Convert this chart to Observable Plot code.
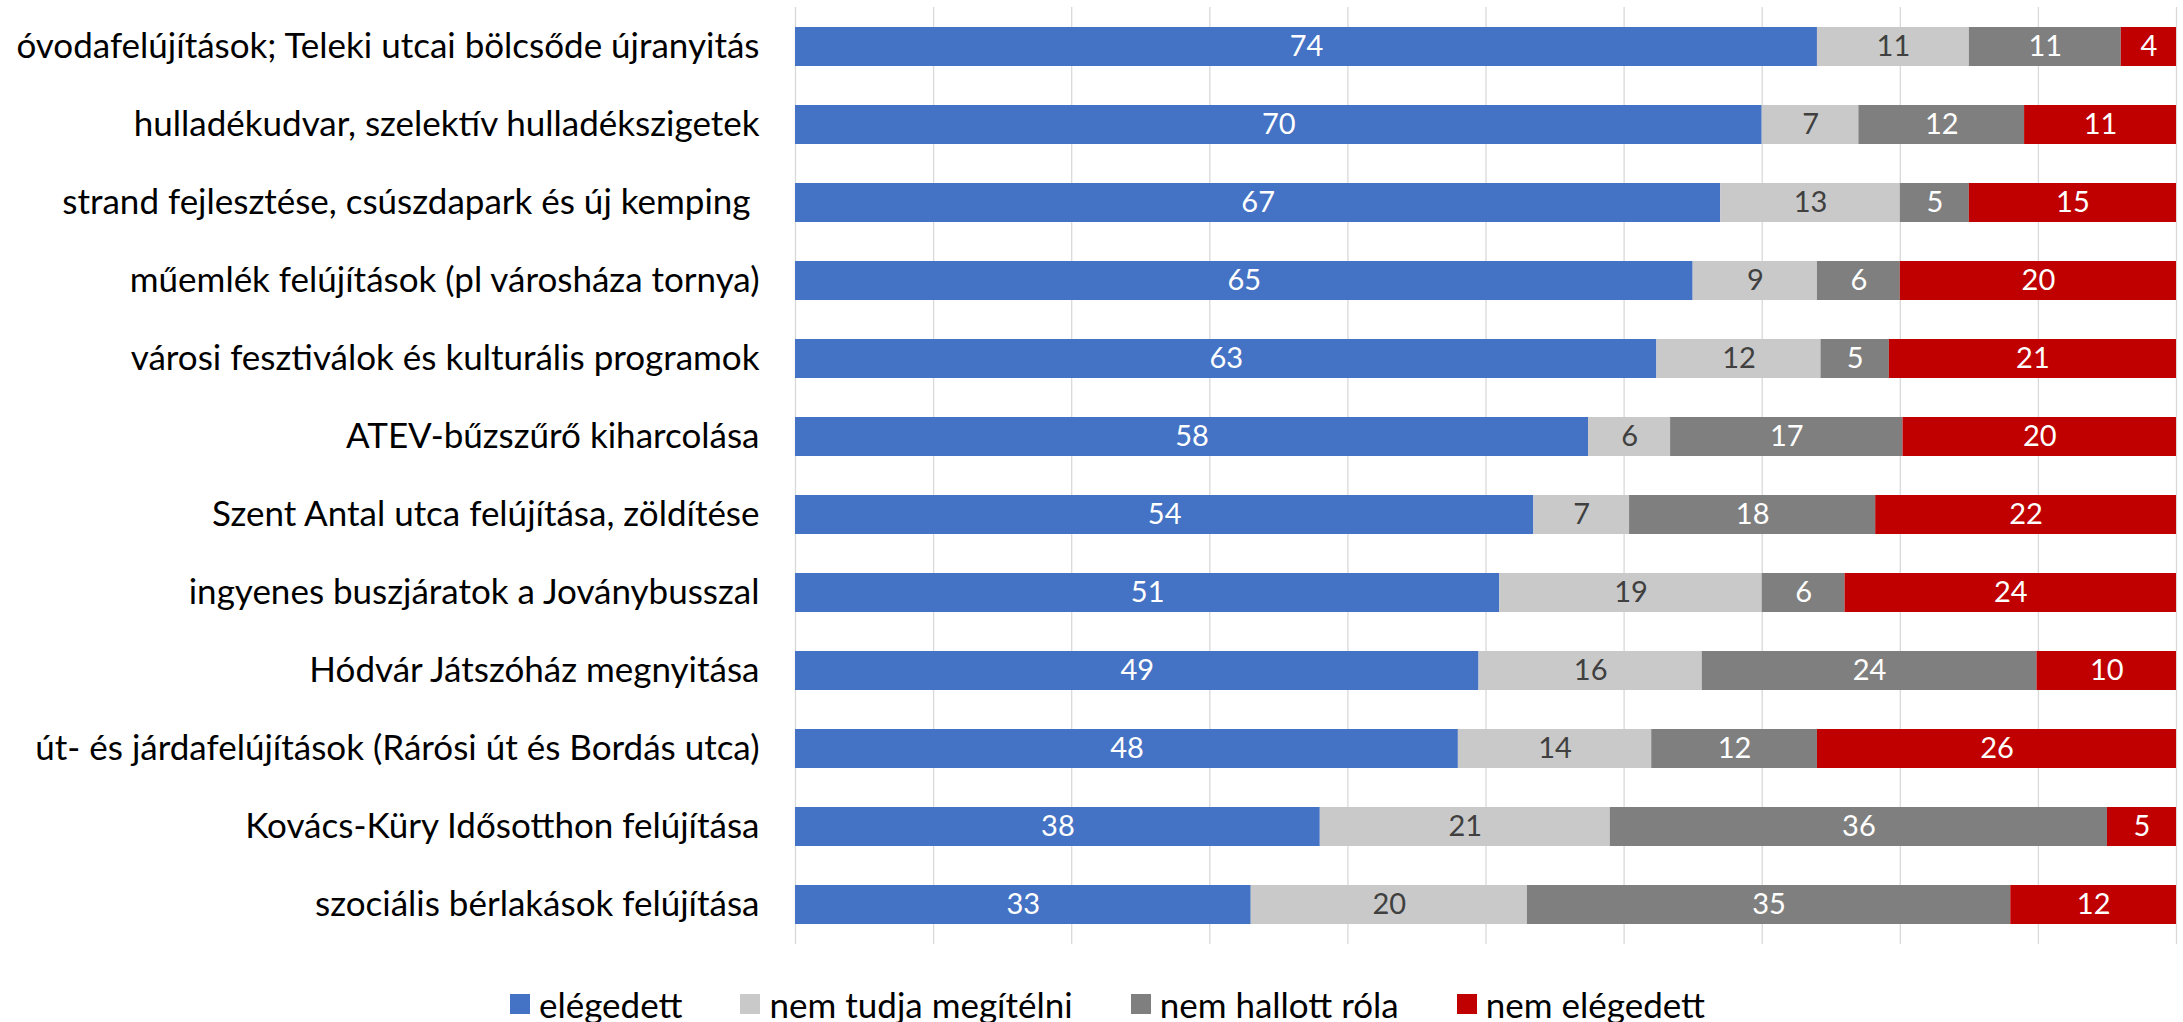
<!DOCTYPE html>
<html>
<head>
<meta charset="utf-8">
<script src="https://cdn.jsdelivr.net/npm/d3@7"></script>
<script src="https://cdn.jsdelivr.net/npm/@observablehq/plot@0.6"></script>
<style>
  html, body { margin: 0; padding: 0; background: #fff; }
  #chart svg text { white-space: pre; }
  #legend {
    width: 2183px; display: flex; justify-content: center; align-items: center;
    font-family: "Lato", sans-serif; font-size: 35px; color: #000; line-height: 40px;
    padding-top: 34px; padding-left: 32px; box-sizing: border-box;
  }
  #legend .item { display: flex; align-items: center; margin: 0 29px; }
  #legend .sw { width: 20px; height: 20px; margin-right: 9px; }
</style>
</head>
<body>
<div id="chart"></div>
<div id="legend"></div>
<script>
const items = [
  "óvodafelújítások; Teleki utcai bölcsőde újranyitás",
  "hulladékudvar, szelektív hulladékszigetek",
  "strand fejlesztése, csúszdapark és új kemping ",
  "műemlék felújítások (pl városháza tornya)",
  "városi fesztiválok és kulturális programok",
  "ATEV-bűzszűrő kiharcolása",
  "Szent Antal utca felújítása, zöldítése",
  "ingyenes buszjáratok a Joványbusszal",
  "Hódvár Játszóház megnyitása",
  "út- és járdafelújítások (Rárósi út és Bordás utca)",
  "Kovács-Küry Idősotthon felújítása",
  "szociális bérlakások felújítása"
];
const categories = ["elégedett", "nem tudja megítélni", "nem hallott róla", "nem elégedett"];
const colors = ["#4472C4", "#C9C9C9", "#7F7F7F", "#C00000"];
const labelColors = ["#FFFFFF", "#404040", "#FFFFFF", "#FFFFFF"];

const elegedett    = [74, 70, 67, 65, 63, 58, 54, 51, 49, 48, 38, 33];
const nemTudja     = [11,  7, 13,  9, 12,  6,  7, 19, 16, 14, 21, 20];
const nemHallott   = [11, 12,  5,  6,  5, 17, 18,  6, 24, 12, 36, 35];
const nemElegedett = [ 4, 11, 15, 20, 21, 20, 22, 24, 10, 26,  5, 12];

const xTicks = [0, 10, 20, 30, 40, 50, 60, 70, 80, 90, 100];

const series = [elegedett, nemTudja, nemHallott, nemElegedett];

// build stacked (normalized to 100) table from the arrays
const rows = [];
items.forEach((item, i) => {
  const vals = series.map(s => s[i]);
  const total = d3.sum(vals);
  let acc = 0;
  vals.forEach((v, j) => {
    const x1 = acc / total * 100;
    acc += v;
    const x2 = acc / total * 100;
    rows.push({item, cat: categories[j], value: v, x1, x2, xm: (x1 + x2) / 2, labelColor: labelColors[j]});
  });
});

const chart = Plot.plot({
  width: 2183,
  height: 950,
  marginTop: 7,
  marginBottom: 6,
  marginLeft: 795,
  marginRight: 7,
  style: {fontFamily: "Lato, sans-serif", fontSize: "28px", color: "#000", background: "#fff"},
  x: {domain: [0, 100], axis: null},
  y: {domain: items, paddingInner: 0.5, paddingOuter: 0.25, label: null},
  color: {domain: categories, range: colors},
  marks: [
    Plot.ruleX(xTicks, {stroke: "#D9D9D9", strokeWidth: 1.3}),
    Plot.barX(rows, {x1: "x1", x2: "x2", y: "item", fill: "cat"}),
    Plot.text(rows.filter(d => d.labelColor === "#FFFFFF"), {x: "xm", y: "item", text: d => String(d.value), fill: "#FFFFFF", fontSize: 29}),
    Plot.text(rows.filter(d => d.labelColor !== "#FFFFFF"), {x: "xm", y: "item", text: d => String(d.value), fill: "#404040", fontSize: 29}),
    Plot.axisY({tickSize: 0, tickPadding: 36, fontSize: 35, label: null, fill: "#000"})
  ]
});
document.getElementById("chart").appendChild(chart);

const legend = document.getElementById("legend");
categories.forEach((c, i) => {
  const it = document.createElement("div");
  it.className = "item";
  const sw = document.createElement("div");
  sw.className = "sw";
  sw.style.background = colors[i];
  const tx = document.createElement("span");
  tx.textContent = c;
  it.appendChild(sw); it.appendChild(tx);
  legend.appendChild(it);
});
</script>
</body>
</html>
